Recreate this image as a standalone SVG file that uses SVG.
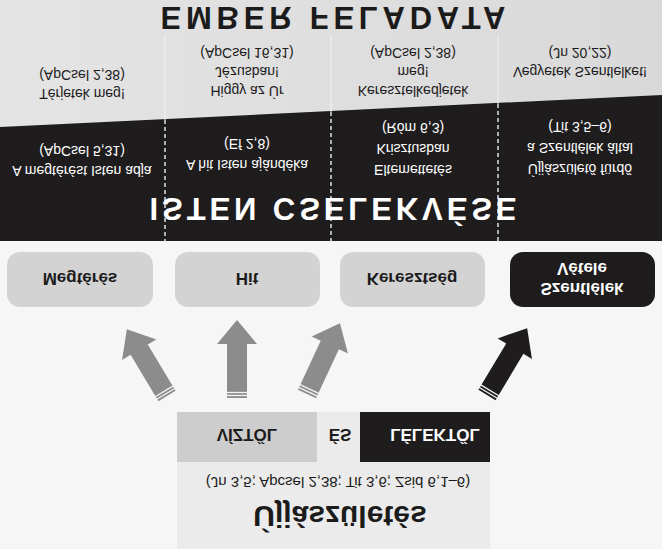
<svg xmlns="http://www.w3.org/2000/svg" width="662" height="549" viewBox="0 0 662 549">
<defs>
<style>
.t{font-family:"Liberation Sans",Arial,sans-serif;text-anchor:middle;fill:#1c1b1b}
.w{fill:#ffffff}
.s{font-size:14px}
.n{font-size:17px;font-weight:bold}
.big{font-size:31px;font-weight:bold}
.node{fill:#d3d3d3}
.nodeB{fill:#1e1c1c}
.arrowG{fill:#8c8c8c}
.arrowB{fill:#1e1c1c}
.stripe{stroke:#f4f4f4;stroke-width:1.3}
.dash{stroke:#ffffff;stroke-width:1.3;stroke-dasharray:4 3}
.faint{stroke:#f2f2f2;stroke-width:1}
</style>
<path id="arr" d="M-10,0 V-54 H-20 L0,-78 L20,-54 H10 V0 Z"/>
<linearGradient id="gbg" x1="0" y1="0" x2="1" y2="0">
<stop offset="0" stop-color="#e4e4e4"/>
<stop offset="1" stop-color="#d9d9d9"/>
</linearGradient>
</defs>
<rect x="0" y="0" width="662" height="549" fill="#f6f6f6"/>
<rect x="0" y="0" width="662" height="130" fill="url(#gbg)"/>
<g id="band">
<polygon points="0,127 662,95 662,241 0,241" fill="#1e1c1c"/>
<line class="faint" x1="165" y1="35" x2="165" y2="120"/>
<line class="faint" x1="331" y1="35" x2="331" y2="112"/>
<line class="faint" x1="498" y1="35" x2="498" y2="104"/>
<line class="dash" x1="165" y1="120" x2="165" y2="241"/>
<line class="dash" x1="331" y1="112" x2="331" y2="241"/>
<line class="dash" x1="498" y1="104" x2="498" y2="241"/>
</g>
<g id="title-ember">
<text class="t big" textLength="345" lengthAdjust="spacing" transform="matrix(1 0 0 -1 333 7)">EMBER FELADATA</text>
</g>
<g id="ember-texts">
<text class="t s" transform="matrix(1 0 0 -1 82 70)">(ApCsel 2,38)</text>
<text class="t s" transform="matrix(1 0 0 -1 82 89)">Térjetek meg!</text>
<text class="t s" transform="matrix(1 0 0 -1 247 48)">(ApCsel 16,31)</text>
<text class="t s" transform="matrix(1 0 0 -1 247 67)">Jézusban!</text>
<text class="t s" transform="matrix(1 0 0 -1 247 86)">Higgy az Úr</text>
<text class="t s" transform="matrix(1 0 0 -1 413 48)">(ApCsel 2,38)</text>
<text class="t s" transform="matrix(1 0 0 -1 413 67)">meg!</text>
<text class="t s" transform="matrix(1 0 0 -1 413 86)">Keresztelkedjetek</text>
<text class="t s" transform="matrix(1 0 0 -1 580 48)">(Jn 20,22)</text>
<text class="t s" transform="matrix(1 0 0 -1 580 67)">Vegyetek Szentlelket!</text>
</g>
<g id="isten-texts">
<text class="t s w" transform="matrix(1 0 0 -1 82 146)">(ApCsel 5,31)</text>
<text class="t s w" transform="matrix(1 0 0 -1 82 166)">A megtérést Isten adja</text>
<text class="t s w" transform="matrix(1 0 0 -1 247 139)">(Ef 2,8)</text>
<text class="t s w" transform="matrix(1 0 0 -1 247 160)">A hit Isten ajándéka</text>
<text class="t s w" transform="matrix(1 0 0 -1 413 123)">(Róm 6,3)</text>
<text class="t s w" transform="matrix(1 0 0 -1 413 144)">Krisztusban</text>
<text class="t s w" transform="matrix(1 0 0 -1 413 165)">Eltemettetés</text>
<text class="t s w" transform="matrix(1 0 0 -1 580 122)">(Tit 3,5–6)</text>
<text class="t s w" transform="matrix(1 0 0 -1 580 143)">a Szentlélek által</text>
<text class="t s w" transform="matrix(1 0 0 -1 580 164)">Újjászülető fürdő</text>
<text class="t big w" textLength="367" lengthAdjust="spacing" transform="matrix(1 0 0 -1 333 198)">ISTEN CSELEKVÉSE</text>
</g>
<g id="node-megteres">
<rect class="node" x="7" y="252" width="146" height="55" rx="13"/>
<text class="t n" transform="matrix(1 0 0 -1 80 273)">Megtérés</text>
</g>
<g id="node-hit">
<rect class="node" x="175" y="252" width="145" height="55" rx="13"/>
<text class="t n" transform="matrix(1 0 0 -1 247 273)">Hit</text>
</g>
<g id="node-kereszteseg">
<rect class="node" x="340" y="252" width="145" height="55" rx="13"/>
<text class="t n" transform="matrix(1 0 0 -1 412 273)">Keresztség</text>
</g>
<g id="node-szentlelek">
<rect class="nodeB" x="510" y="252" width="145" height="55" rx="13"/>
<text class="t n w" transform="matrix(1 0 0 -1 582 263)">Vétele</text>
<text class="t n w" transform="matrix(1 0 0 -1 582 283)">Szentlélek</text>
</g>
<g id="connectors">
<g transform="translate(167,396) rotate(-31)">
<use href="#arr" class="arrowG"/>
<line class="stripe" x1="-11" y1="-2.5" x2="11" y2="-2.5"/>
<line class="stripe" x1="-11" y1="-5.5" x2="11" y2="-5.5"/>
</g>
<g transform="translate(237,398)">
<use href="#arr" class="arrowG"/>
<line class="stripe" x1="-11" y1="-2.5" x2="11" y2="-2.5"/>
<line class="stripe" x1="-11" y1="-5.5" x2="11" y2="-5.5"/>
</g>
<g transform="translate(307,394) rotate(25)">
<use href="#arr" class="arrowG"/>
<line class="stripe" x1="-11" y1="-2.5" x2="11" y2="-2.5"/>
<line class="stripe" x1="-11" y1="-5.5" x2="11" y2="-5.5"/>
</g>
<g transform="translate(487,395) rotate(31)">
<use href="#arr" class="arrowB"/>
<line class="stripe" x1="-11" y1="-2.5" x2="11" y2="-2.5"/>
<line class="stripe" x1="-11" y1="-5.5" x2="11" y2="-5.5"/>
</g>
</g>
<g id="ujjaszuletes">
<rect x="177" y="412" width="313" height="137" fill="#ebebeb"/>
<rect x="177" y="412" width="140" height="50" fill="#cdcdcd"/>
<rect x="360" y="412" width="130" height="50" fill="#1e1c1c"/>
<text class="t n" transform="matrix(1 0 0 -1 247 429)">VÍZTŐL</text>
<text class="t n" transform="matrix(1 0 0 -1 340 429)">ÉS</text>
<text class="t n w" transform="matrix(1 0 0 -1 435 429)">LÉLEKTŐL</text>
<text class="t" style="font-size:15px" transform="matrix(1 0 0 -1 338 477)">(Jn 3,5; Apcsel 2,38; Tit 3,6; Zsid 6,1–6)</text>
<text class="t big" style="font-size:30px" transform="matrix(1 0 0 -1 340 506)">Újjászületés</text>
</g>
</svg>
